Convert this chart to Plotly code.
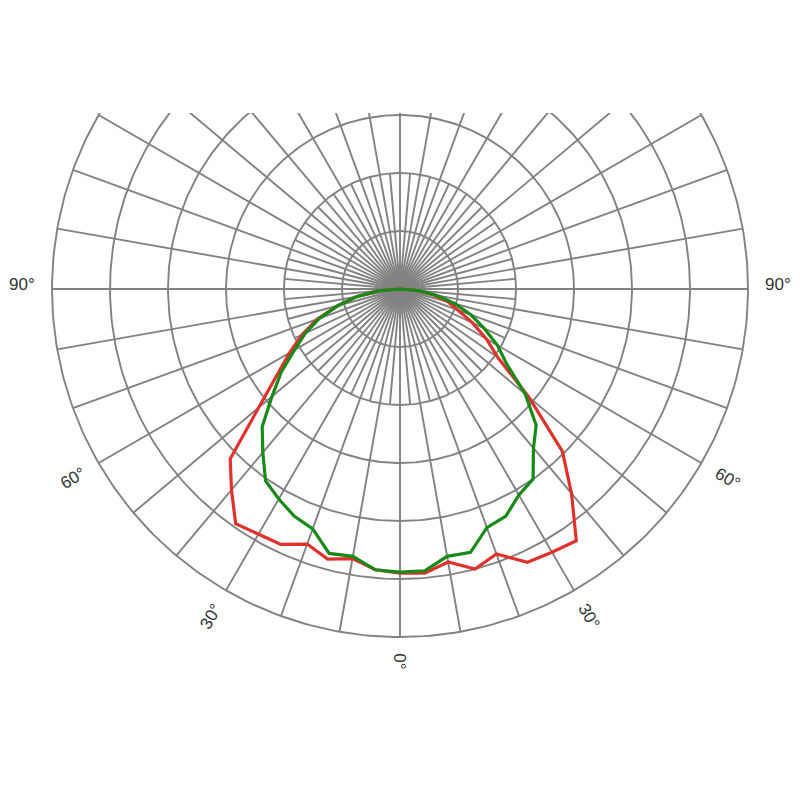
import numpy as np
import plotly.graph_objects as go

# angles from nadir (deg), negative = left half, positive = right half
angles = list(range(-90, 95, 5))

# luminous intensity, two planes
red_vals = [0, 19, 38, 56, 76, 93, 110, 129, 159, 207, 226, 247, 244, 243, 234, 241, 236, 243,
            245,
            246, 239, 250, 243, 260, 262, 265, 230, 198, 145, 103, 86, 69, 53, 43, 29, 15, 0]
green_vals = [0, 19, 38, 55, 74, 90, 105, 125, 144, 168, 184, 202, 209, 216, 220, 236, 234, 243,
              244,
              244, 234, 235, 219, 216, 205, 200, 179, 166, 141, 112, 97, 80, 65, 49, 33, 16, 0]

ring_vals = [50, 100, 150, 200, 250, 300]
label_angles = [-90, -60, -30, 0, 30, 60, 90]
label_texts = ['90°', '60°', '30°', '0°', '30°', '60°', '90°']

grid_color = '#828282'
px = 1.16  # pixels per unit
cx, cy = 392, 281  # centre of the diagram in figure pixels
clip_top = 105     # figure pixel row where the diagram is cut


def to_xy(theta_deg, r):
    t = np.radians(np.asarray(theta_deg, dtype=float))
    r = np.asarray(r, dtype=float)
    return r * np.sin(t), -r * np.cos(t)


fig = go.Figure()

# rings
gx, gy = [], []
phi = np.linspace(0, 360, 361)
for rv in ring_vals:
    x, y = to_xy(phi, np.full_like(phi, rv))
    gx += list(x) + [None]
    gy += list(y) + [None]

# spokes: every 10 deg to the rim, every 5 deg up to the 2nd ring
for a in range(0, 360, 5):
    rmax = ring_vals[-1] if a % 10 == 0 else ring_vals[1]
    x, y = to_xy([a, a], [0, rmax])
    gx += list(x) + [None]
    gy += list(y) + [None]

fig.add_trace(go.Scatter(x=gx, y=gy, mode='lines',
                         line=dict(color=grid_color, width=1.9),
                         hoverinfo='skip'))

rx, ry = to_xy(angles, red_vals)
fig.add_trace(go.Scatter(x=rx, y=ry, mode='lines', name='C0-C180',
                         line=dict(color='#e0322d', width=3.2)))
gxv, gyv = to_xy(angles, green_vals)
fig.add_trace(go.Scatter(x=gxv, y=gyv, mode='lines', name='C90-C270',
                         line=dict(color='#178a17', width=3.2)))

# angle labels around the rim
for a, txt in zip(label_angles, label_texts):
    lx, ly = to_xy(a, 321 if a == 0 else 326)
    if a > 0:
        ang = 90 - a
    elif a < 0:
        ang = -90 - a
    else:
        ang = 90
    fig.add_annotation(x=float(lx), y=float(ly), text=txt, showarrow=False,
                       textangle=ang, yshift=5 if abs(a) == 90 else 0,
                       font=dict(family='Liberation Sans, Arial', size=17, color='#333333'))

fig.update_layout(
    width=800,
    height=800,
    margin=dict(l=0, r=0, t=0, b=0),
    plot_bgcolor='white',
    paper_bgcolor='white',
    showlegend=False,
    xaxis=dict(range=[-cx / px, (800 - cx) / px], visible=False, fixedrange=True),
    yaxis=dict(range=[-(800 - cy) / px, (cy - clip_top) / px],
               domain=[0, (800 - clip_top) / 800],
               visible=False, fixedrange=True),
)

fig.write_html("out.html")
